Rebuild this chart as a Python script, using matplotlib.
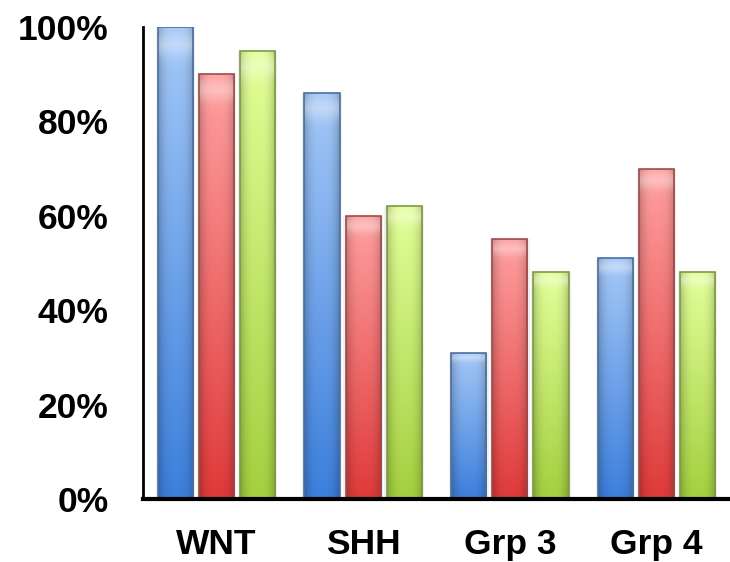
import matplotlib.pyplot as plt
import matplotlib.colors as mcolors
import numpy as np

groups = ['WNT', 'SHH', 'Grp 3', 'Grp 4']
blue_vals = [1.00, 0.86, 0.31, 0.51]
red_vals = [0.90, 0.60, 0.55, 0.70]
green_vals = [0.95, 0.62, 0.48, 0.48]
yticks = [0, 0.2, 0.4, 0.6, 0.8, 1.0]
ytick_labels = ['0%', '20%', '40%', '60%', '80%', '100%']

# top colour, bottom colour, edge colour for each series
shades = [
    ('#a4c8f7', '#3c7fdc', '#4b6f9e'),
    ('#ffa0a0', '#e03a3a', '#9e4a4a'),
    ('#e2ff98', '#a4d040', '#7d9a45'),
]

plt.rcParams['font.family'] = ['Liberation Sans', 'DejaVu Sans']
fig = plt.figure(figsize=(7.3, 5.62), dpi=100)
ax = fig.add_axes([143 / 730, 63 / 562, 587 / 730, 472 / 562])

x = np.arange(len(groups))
width = 0.239
offsets = [-0.28, 0.0, 0.28]


def shade_bar(patch, top, bottom, edge):
    x0, w, h = patch.get_x(), patch.get_width(), patch.get_height()
    ny, nx = 64, 32
    t = np.linspace(0, 1, ny)[:, None]
    ctop = np.array(mcolors.to_rgb(top))
    cbot = np.array(mcolors.to_rgb(bottom))
    col = ctop[None, None, :] * (1 - t[..., None]) + cbot[None, None, :] * t[..., None]
    col = np.repeat(col, nx, axis=1)
    u = np.linspace(-1, 1, nx)
    dark = 1 - 0.22 * np.abs(u) ** 3
    col = col * dark[None, :, None]
    # soft highlight near the cap
    cap = np.exp(-((t - 0.03) / 0.025) ** 2)[..., None] * 0.35
    col = col * (1 - cap) + cap
    col = np.clip(col, 0, 1)
    im = ax.imshow(col, extent=[x0, x0 + w, 0, h], aspect='auto',
                   interpolation='bilinear', zorder=3)
    im.set_clip_path(patch)
    patch.set_facecolor('none')
    patch.set_edgecolor(edge)
    patch.set_linewidth(1.2)
    patch.set_zorder(4)


for vals, off, (top, bottom, edge) in zip([blue_vals, red_vals, green_vals], offsets, shades):
    # faint shadow behind each bar
    ax.bar(x + off, vals, width=width + 0.03, color='#f0f0f0', zorder=2)
    bars = ax.bar(x + off, vals, width=width, zorder=3)
    for p in bars:
        shade_bar(p, top, bottom, edge)

ax.set_xlim(-0.5, 3.5)
ax.set_ylim(0, 1)
ax.set_xticks(x)
ax.set_xticklabels(groups, fontsize=25.5, fontweight='bold')
ax.set_yticks(yticks)
ax.set_yticklabels(ytick_labels, fontsize=25.5, fontweight='bold')
ax.tick_params(axis='both', length=0)
ax.tick_params(axis='y', pad=25)
ax.tick_params(axis='x', pad=21)
ax.spines['top'].set_visible(False)
ax.spines['right'].set_visible(False)
ax.spines['left'].set_linewidth(2)
ax.spines['bottom'].set_linewidth(3)
ax.spines['left'].set_zorder(5)
ax.spines['bottom'].set_zorder(5)

fig.savefig('out.png', dpi=100)
